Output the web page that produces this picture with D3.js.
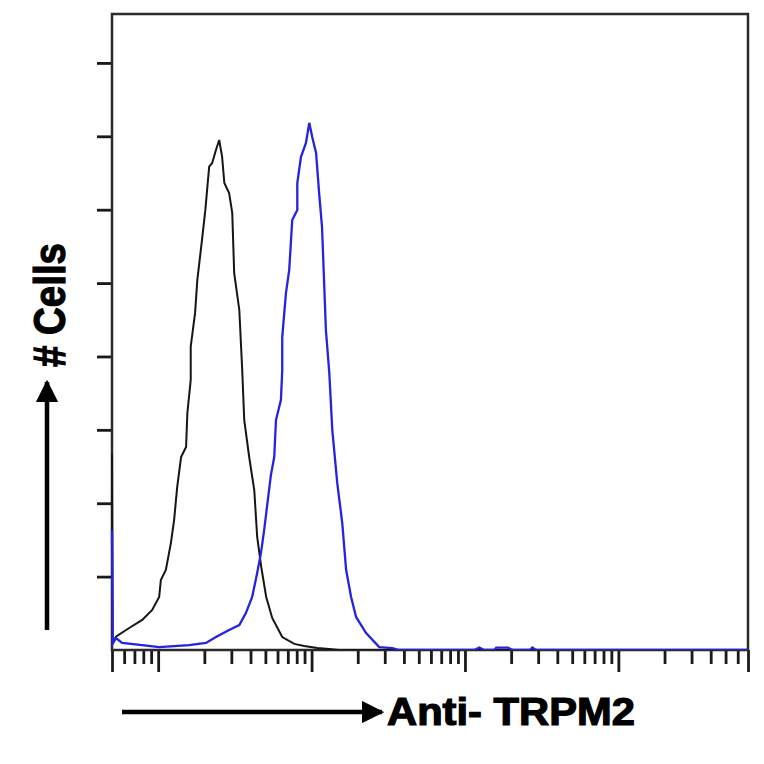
<!DOCTYPE html>
<html>
<head>
<meta charset="utf-8">
<script src="https://cdn.jsdelivr.net/npm/d3@7"></script>
<style>
  body { margin: 0; background: #fff; }
  .lbl { font-family: "Liberation Sans", Arial, sans-serif; font-weight: bold; fill: #000; stroke: #000; stroke-width: 1.2px; }
</style>
</head>
<body>
<div id="chart"></div>
<script>
// Intensity (x) and cell counts (y) for the two histograms
const controlX = [0.5, 0.505, 0.53, 0.647, 0.787, 0.914, 1.015, 1.041, 1.122, 1.21, 1.27, 1.33, 1.41, 1.52, 1.55, 1.63, 1.63,
  1.74, 1.80, 1.93, 2.03, 2.15, 2.25, 2.38, 2.50, 2.61, 2.70, 2.90, 3.04, 3.13, 3.38, 3.53, 3.64, 3.92, 4.23, 4.42,
  4.70, 5.06, 5.54, 6.44, 7.71, 8.96, 10.9, 13.0, 15.1, 7000];
const controlY = [80, 2.5, 5.4, 9, 12.3, 16.4, 21.7, 28.6, 32.7, 43.7, 53.1, 66.6, 78.9, 83, 96.9, 110.4, 124,
  137.8, 151.3, 167.6, 179.9, 197.6, 199.1, 204.4, 208.5, 201.7, 190.9, 186.8, 178.7, 154.1, 139, 114.5, 94, 78.9, 65.4, 46.2,
  33.9, 21.7, 13.1, 5.3, 2.5, 1.6, 0.8, 0.4, 0, 0];

const trpm2X = [0.5, 0.505, 0.53, 0.582, 0.787, 1.015, 1.27, 1.59, 2.05, 2.38, 2.90, 3.38, 3.73, 4.10, 4.42, 4.68, 4.91,
  5.14, 5.43, 5.71, 5.86, 6.31, 6.44, 6.44, 6.81, 7.15, 7.48, 8.07, 8.07, 8.53, 9.19, 9.66, 10.1, 10.7, 11.2, 11.7,
  12.4, 13.05, 13.65, 14.7, 15.85, 16.8, 18.1, 19.5, 22.6, 27.6, 33.6, 37.3, 115, 124, 133, 155, 160, 175, 190, 205,
  265, 275, 290, 7000];
const trpm2Y = [49, 2.5, 4.9, 2.9, 2.0, 1.2, 1.6, 2.0, 2.9, 5.3, 8.2, 10.2, 15.1, 21.7, 31.5, 39.7, 49.1,
  59.3, 71.5, 78.9, 94, 102.2, 114.5, 128, 146, 155.4, 175.8, 179.9, 190.9, 201.6, 207.3, 215.5, 209.7, 203.2, 186.8, 172.9,
  130.8, 113.2, 89.9, 68.3, 51.9, 32.7, 21.7, 13.5, 7.0, 1.2, 0.8, 0, 0, 1, 0, 0, 1, 1, 1, 0,
  0, 1, 0, 0];

const majorTicks = [0.5, 1, 10, 100, 1000, 7000];
const yTicks = [30, 60, 90, 120, 150, 180, 210, 240];

const margin = {top: 14, right: 16, bottom: 114, left: 112},
      width = 764 - margin.left - margin.right,
      height = 764 - margin.top - margin.bottom;

const svg = d3.select("#chart")
  .append("svg")
    .attr("width", 764)
    .attr("height", 764);

const g = svg.append("g")
    .attr("transform", `translate(${margin.left},${margin.top})`);

const x = d3.scaleLog()
  .domain([0.5, 7000])
  .range([0, width]);

const y = d3.scaleLinear()
  .domain([0, 260])
  .range([height, 0]);

// minor log ticks: 2..9 of every decade inside the domain
const minorTicks = [];
[0.1, 1, 10, 100, 1000].forEach(d => {
  for (let k = 2; k <= 9; k++) {
    const v = k * d;
    if (v > 0.5 && v < 7000) minorTicks.push(v);
  }
});

g.append("g")
  .attr("transform", `translate(0,${height})`)
  .call(d3.axisBottom(x).tickValues(minorTicks).tickSize(14).tickFormat(""))
  .call(a => a.select(".domain").remove());

g.append("g")
  .attr("transform", `translate(0,${height})`)
  .call(d3.axisBottom(x).tickValues(majorTicks).tickSize(22).tickFormat(""))
  .call(a => a.select(".domain").remove());

g.append("g")
  .call(d3.axisLeft(y).tickValues(yTicks).tickSize(15).tickFormat(""))
  .call(a => a.select(".domain").remove());

g.selectAll(".tick line")
  .attr("stroke", "#1a1a1a")
  .attr("stroke-width", 2.8);

// frame (under the curves so the first-channel spikes show on the left edge)
g.append("rect")
  .attr("width", width)
  .attr("height", height)
  .attr("fill", "none")
  .attr("stroke", "#2a2a2a")
  .attr("stroke-width", 2.5);

// clip
g.append("clipPath").attr("id", "clip")
  .append("rect").attr("x", -2).attr("width", width + 2).attr("height", height);

const line = d3.line()
  .x(d => x(d[0]))
  .y(d => y(d[1]));

g.append("path")
  .datum(controlX.map((v, i) => [v, controlY[i]]))
  .attr("clip-path", "url(#clip)")
  .attr("fill", "none")
  .attr("stroke", "#151515")
  .attr("stroke-width", 2)
  .attr("d", line);

g.append("path")
  .datum(trpm2X.map((v, i) => [v, trpm2Y[i]]))
  .attr("clip-path", "url(#clip)")
  .attr("fill", "none")
  .attr("stroke", "#2323e0")
  .attr("stroke-width", 2.3)
  .attr("d", line);

// arrows + labels
const defs = svg.append("defs");
defs.append("marker")
  .attr("id", "head")
  .attr("viewBox", "0 0 10 10")
  .attr("refX", 9).attr("refY", 5)
  .attr("markerWidth", 5).attr("markerHeight", 5)
  .attr("markerUnits", "strokeWidth")
  .attr("orient", "auto")
  .append("path").attr("d", "M0,0 L10,5 L0,10 Z").attr("fill", "#000");

svg.append("line")
  .attr("x1", 122).attr("y1", 712).attr("x2", 382).attr("y2", 712)
  .attr("stroke", "#000").attr("stroke-width", 4.5)
  .attr("marker-end", "url(#head)");

svg.append("text")
  .attr("class", "lbl")
  .attr("x", 387).attr("y", 725)
  .attr("textLength", 248)
  .attr("lengthAdjust", "spacingAndGlyphs")
  .style("font-size", "38px")
  .text("Anti- TRPM2");

svg.append("line")
  .attr("x1", 47).attr("y1", 630).attr("x2", 47).attr("y2", 382)
  .attr("stroke", "#000").attr("stroke-width", 4.5)
  .attr("marker-end", "url(#head)");

svg.append("text")
  .attr("class", "lbl")
  .attr("transform", "translate(65,367) rotate(-90)")
  .attr("textLength", 124)
  .attr("lengthAdjust", "spacingAndGlyphs")
  .style("font-size", "44px")
  .text("# Cells");
</script>
</body>
</html>
